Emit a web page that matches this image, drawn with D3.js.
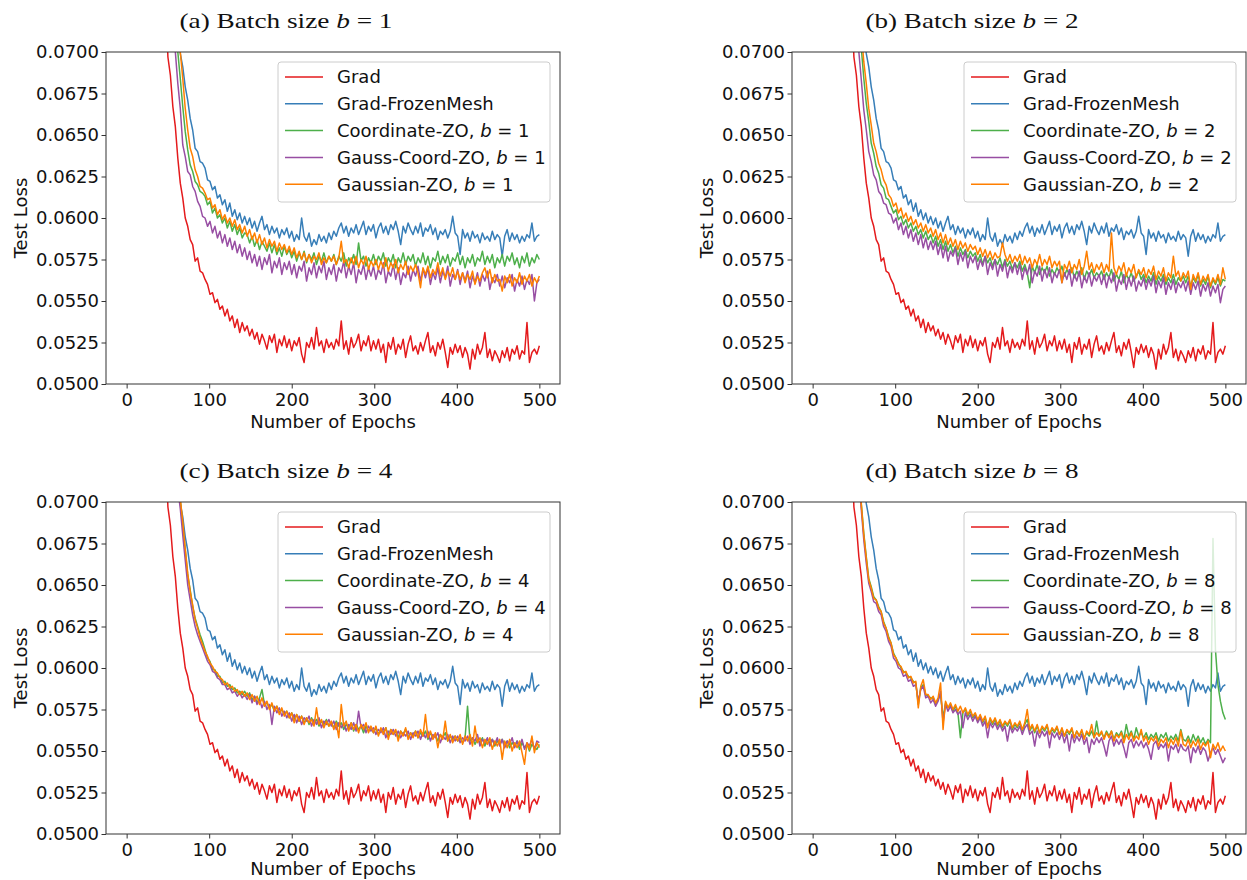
<!DOCTYPE html>
<html><head><meta charset="utf-8">
<script src="https://cdn.jsdelivr.net/npm/d3@7"></script>
<style>body{margin:0;background:#fff}svg{display:block}</style>
</head><body>
<svg id="chart" width="1247" height="880"></svg>
<script>
// Sampling grid (epochs): every 3 epochs from 44 to 500
const epochs = d3.range(44, 501, 3);

// Baselines shared by all four panels
const grad = [
0.0780,0.0735,0.0697,0.0686,0.0667,0.0655,0.0636,0.0621,0.0612,0.0600,0.0595,0.0587,0.0584,0.0574,0.0576,0.0568,0.0567,
0.0563,0.0560,0.0554,0.0555,0.0549,0.0551,0.0545,0.0547,0.0541,0.0545,0.0538,0.0541,0.0534,0.0539,0.0531,0.0537,0.0532,
0.0535,0.0529,0.0533,0.0527,0.0531,0.0524,0.0530,0.0526,0.0521,0.0529,0.0525,0.0530,0.0519,0.0527,0.0523,0.0529,0.0522,
0.0527,0.0520,0.0526,0.0523,0.0528,0.0518,0.0513,0.0525,0.0522,0.0528,0.0521,0.0534,0.0523,0.0526,0.0519,0.0527,0.0522,
0.0525,0.0521,0.0527,0.0523,0.0538,0.0521,0.0526,0.0518,0.0528,0.0522,0.0525,0.0530,0.0520,0.0526,0.0523,0.0529,0.0520,
0.0526,0.0521,0.0527,0.0519,0.0524,0.0513,0.0525,0.0521,0.0528,0.0518,0.0524,0.0521,0.0527,0.0516,0.0524,0.0529,0.0520,
0.0523,0.0518,0.0525,0.0520,0.0526,0.0531,0.0519,0.0523,0.0517,0.0525,0.0521,0.0527,0.0519,0.0510,0.0522,0.0518,0.0524,
0.0519,0.0523,0.0516,0.0522,0.0518,0.0509,0.0521,0.0515,0.0524,0.0518,0.0522,0.0531,0.0516,0.0521,0.0514,0.0520,0.0517,
0.0513,0.0520,0.0516,0.0522,0.0514,0.0521,0.0518,0.0523,0.0515,0.0520,0.0518,0.0537,0.0513,0.0519,0.0521,0.0518,0.0523];
const frozenMesh = [
0.0810,0.0795,0.0775,0.0760,0.0745,0.0730,0.0712,0.0699,0.0691,0.0679,0.0671,0.0660,0.0653,0.0642,0.0640,0.0634,0.0633,
0.0630,0.0623,0.0622,0.0617,0.0619,0.0612,0.0614,0.0608,0.0611,0.0604,0.0609,0.0601,0.0605,0.0599,0.0603,0.0597,0.0601,
0.0596,0.0600,0.0594,0.0598,0.0592,0.0597,0.0601,0.0593,0.0596,0.0590,0.0595,0.0591,0.0594,0.0588,0.0593,0.0590,0.0594,
0.0588,0.0592,0.0586,0.0590,0.0587,0.0600,0.0589,0.0586,0.0591,0.0583,0.0587,0.0584,0.0590,0.0586,0.0589,0.0585,0.0591,
0.0587,0.0592,0.0589,0.0594,0.0597,0.0591,0.0595,0.0589,0.0594,0.0591,0.0596,0.0590,0.0594,0.0598,0.0590,0.0595,0.0592,
0.0596,0.0588,0.0594,0.0597,0.0591,0.0595,0.0590,0.0596,0.0593,0.0598,0.0592,0.0584,0.0595,0.0591,0.0597,0.0593,0.0590,
0.0595,0.0591,0.0597,0.0589,0.0594,0.0592,0.0596,0.0590,0.0594,0.0587,0.0592,0.0590,0.0593,0.0588,0.0592,0.0601,0.0591,
0.0589,0.0578,0.0593,0.0588,0.0591,0.0586,0.0592,0.0588,0.0590,0.0585,0.0591,0.0587,0.0589,0.0586,0.0592,0.0587,0.0590,
0.0588,0.0577,0.0589,0.0593,0.0586,0.0591,0.0587,0.0590,0.0585,0.0589,0.0586,0.0590,0.0588,0.0597,0.0586,0.0589,0.0590];

// (a) batch size 1
const coordA = [
0.0810,0.0790,0.0772,0.0753,0.0735,0.0718,0.0700,0.0684,0.0667,0.0652,0.0641,0.0632,0.0628,0.0622,0.0620,0.0616,0.0615,
0.0613,0.0608,0.0610,0.0603,0.0606,0.0600,0.0602,0.0597,0.0600,0.0594,0.0598,0.0592,0.0596,0.0590,0.0594,0.0588,0.0591,
0.0590,0.0585,0.0589,0.0583,0.0587,0.0581,0.0586,0.0583,0.0580,0.0585,0.0579,0.0584,0.0578,0.0582,0.0577,0.0583,0.0578,
0.0581,0.0576,0.0580,0.0574,0.0579,0.0575,0.0580,0.0573,0.0578,0.0575,0.0579,0.0572,0.0577,0.0574,0.0579,0.0573,0.0577,
0.0574,0.0578,0.0572,0.0577,0.0574,0.0579,0.0571,0.0576,0.0573,0.0578,0.0572,0.0585,0.0574,0.0577,0.0571,0.0576,0.0573,
0.0578,0.0572,0.0577,0.0574,0.0579,0.0571,0.0576,0.0573,0.0578,0.0570,0.0576,0.0573,0.0579,0.0572,0.0577,0.0574,0.0578,
0.0571,0.0576,0.0573,0.0579,0.0572,0.0577,0.0570,0.0576,0.0574,0.0580,0.0572,0.0577,0.0573,0.0578,0.0571,0.0576,0.0574,
0.0579,0.0572,0.0577,0.0570,0.0576,0.0573,0.0578,0.0571,0.0576,0.0574,0.0580,0.0572,0.0577,0.0573,0.0578,0.0570,0.0576,
0.0573,0.0578,0.0571,0.0577,0.0574,0.0579,0.0572,0.0576,0.0570,0.0577,0.0573,0.0579,0.0571,0.0576,0.0573,0.0578,0.0575];
const gaussCoordA = [
0.0800,0.0780,0.0760,0.0740,0.0720,0.0700,0.0681,0.0666,0.0644,0.0637,0.0628,0.0626,0.0619,0.0616,0.0610,0.0607,0.0601,
0.0600,0.0595,0.0598,0.0591,0.0595,0.0588,0.0592,0.0585,0.0590,0.0583,0.0588,0.0581,0.0586,0.0579,0.0584,0.0577,0.0582,
0.0575,0.0580,0.0573,0.0578,0.0571,0.0577,0.0569,0.0576,0.0572,0.0578,0.0567,0.0574,0.0570,0.0576,0.0566,0.0573,0.0569,
0.0574,0.0566,0.0572,0.0564,0.0571,0.0568,0.0574,0.0562,0.0570,0.0566,0.0573,0.0564,0.0571,0.0567,0.0574,0.0563,0.0570,
0.0566,0.0572,0.0562,0.0570,0.0567,0.0574,0.0564,0.0571,0.0566,0.0573,0.0561,0.0569,0.0566,0.0572,0.0563,0.0570,0.0565,
0.0571,0.0563,0.0569,0.0566,0.0573,0.0561,0.0568,0.0565,0.0572,0.0563,0.0570,0.0560,0.0567,0.0564,0.0571,0.0562,0.0569,
0.0565,0.0571,0.0562,0.0569,0.0564,0.0570,0.0560,0.0567,0.0563,0.0570,0.0561,0.0568,0.0564,0.0571,0.0559,0.0566,0.0563,
0.0569,0.0560,0.0567,0.0562,0.0568,0.0558,0.0565,0.0561,0.0567,0.0559,0.0566,0.0562,0.0568,0.0557,0.0564,0.0561,0.0566,
0.0559,0.0565,0.0558,0.0564,0.0561,0.0566,0.0556,0.0563,0.0559,0.0565,0.0557,0.0563,0.0560,0.0566,0.0550,0.0561,0.0563];
const gaussianA = [
0.0820,0.0800,0.0780,0.0760,0.0745,0.0730,0.0715,0.0700,0.0684,0.0666,0.0653,0.0642,0.0637,0.0629,0.0625,0.0619,0.0618,
0.0615,0.0611,0.0612,0.0606,0.0608,0.0602,0.0605,0.0599,0.0602,0.0597,0.0600,0.0595,0.0599,0.0593,0.0596,0.0591,0.0595,
0.0589,0.0593,0.0587,0.0591,0.0585,0.0590,0.0584,0.0588,0.0582,0.0587,0.0583,0.0586,0.0580,0.0585,0.0581,0.0584,0.0579,
0.0583,0.0578,0.0582,0.0576,0.0580,0.0575,0.0579,0.0574,0.0578,0.0573,0.0577,0.0575,0.0579,0.0572,0.0576,0.0573,0.0577,
0.0574,0.0577,0.0572,0.0576,0.0586,0.0573,0.0575,0.0570,0.0576,0.0572,0.0577,0.0570,0.0575,0.0572,0.0577,0.0569,0.0574,
0.0571,0.0575,0.0569,0.0574,0.0570,0.0576,0.0568,0.0573,0.0570,0.0575,0.0567,0.0572,0.0569,0.0574,0.0566,0.0571,0.0568,
0.0572,0.0567,0.0558,0.0570,0.0566,0.0571,0.0564,0.0569,0.0566,0.0573,0.0565,0.0570,0.0563,0.0568,0.0565,0.0570,0.0563,
0.0568,0.0563,0.0567,0.0561,0.0566,0.0563,0.0568,0.0560,0.0565,0.0562,0.0567,0.0570,0.0564,0.0569,0.0561,0.0566,0.0562,
0.0563,0.0556,0.0565,0.0561,0.0566,0.0559,0.0564,0.0561,0.0567,0.0560,0.0565,0.0562,0.0566,0.0559,0.0564,0.0561,0.0565];

// (b) batch size 2
const coordB = [
0.0800,0.0780,0.0760,0.0740,0.0720,0.0702,0.0684,0.0669,0.0658,0.0645,0.0639,0.0631,0.0627,0.0620,0.0618,0.0612,0.0611,
0.0607,0.0603,0.0605,0.0599,0.0601,0.0596,0.0599,0.0594,0.0597,0.0592,0.0595,0.0590,0.0593,0.0588,0.0592,0.0587,0.0590,
0.0585,0.0589,0.0583,0.0587,0.0581,0.0586,0.0580,0.0584,0.0579,0.0583,0.0577,0.0582,0.0578,0.0581,0.0576,0.0580,0.0577,
0.0579,0.0574,0.0578,0.0572,0.0577,0.0573,0.0576,0.0571,0.0575,0.0572,0.0576,0.0570,0.0575,0.0571,0.0574,0.0569,0.0573,
0.0570,0.0574,0.0568,0.0572,0.0567,0.0558,0.0571,0.0567,0.0572,0.0566,0.0570,0.0567,0.0571,0.0565,0.0569,0.0566,0.0570,
0.0567,0.0571,0.0565,0.0569,0.0566,0.0570,0.0564,0.0568,0.0565,0.0570,0.0563,0.0568,0.0565,0.0569,0.0564,0.0567,0.0565,
0.0568,0.0563,0.0567,0.0564,0.0569,0.0562,0.0566,0.0563,0.0568,0.0561,0.0566,0.0563,0.0567,0.0562,0.0565,0.0568,0.0563,
0.0566,0.0561,0.0565,0.0562,0.0567,0.0560,0.0565,0.0562,0.0566,0.0560,0.0564,0.0561,0.0566,0.0560,0.0564,0.0562,0.0565,
0.0561,0.0565,0.0559,0.0564,0.0561,0.0566,0.0559,0.0563,0.0560,0.0565,0.0558,0.0563,0.0560,0.0564,0.0559,0.0563,0.0562];
const gaussCoordB = [
0.0790,0.0770,0.0750,0.0720,0.0700,0.0683,0.0665,0.0653,0.0640,0.0634,0.0626,0.0623,0.0616,0.0614,0.0609,0.0608,0.0603,
0.0602,0.0597,0.0600,0.0593,0.0597,0.0590,0.0595,0.0588,0.0593,0.0586,0.0591,0.0584,0.0590,0.0582,0.0588,0.0581,0.0586,
0.0581,0.0586,0.0578,0.0584,0.0576,0.0583,0.0574,0.0580,0.0577,0.0582,0.0572,0.0579,0.0574,0.0580,0.0570,0.0577,0.0573,
0.0577,0.0569,0.0575,0.0571,0.0577,0.0566,0.0573,0.0569,0.0575,0.0565,0.0572,0.0568,0.0574,0.0564,0.0571,0.0567,0.0573,
0.0566,0.0572,0.0563,0.0570,0.0566,0.0572,0.0561,0.0568,0.0565,0.0571,0.0562,0.0569,0.0564,0.0570,0.0561,0.0567,0.0564,
0.0569,0.0561,0.0567,0.0563,0.0569,0.0559,0.0566,0.0562,0.0568,0.0558,0.0565,0.0561,0.0567,0.0559,0.0565,0.0562,0.0566,
0.0560,0.0566,0.0558,0.0565,0.0561,0.0567,0.0556,0.0563,0.0560,0.0566,0.0557,0.0564,0.0559,0.0565,0.0556,0.0562,0.0559,
0.0564,0.0557,0.0563,0.0559,0.0565,0.0555,0.0562,0.0558,0.0564,0.0554,0.0561,0.0557,0.0563,0.0555,0.0561,0.0558,0.0562,
0.0556,0.0562,0.0554,0.0561,0.0557,0.0562,0.0553,0.0560,0.0556,0.0561,0.0553,0.0559,0.0555,0.0560,0.0549,0.0557,0.0559];
const gaussianB = [
0.0810,0.0790,0.0770,0.0750,0.0730,0.0712,0.0694,0.0681,0.0666,0.0656,0.0645,0.0640,0.0633,0.0629,0.0623,0.0620,0.0614,
0.0612,0.0607,0.0609,0.0603,0.0606,0.0600,0.0603,0.0598,0.0601,0.0596,0.0599,0.0594,0.0597,0.0592,0.0596,0.0591,0.0594,
0.0589,0.0593,0.0587,0.0591,0.0585,0.0590,0.0584,0.0588,0.0583,0.0587,0.0581,0.0586,0.0582,0.0585,0.0580,0.0584,0.0581,
0.0583,0.0578,0.0582,0.0577,0.0581,0.0576,0.0580,0.0575,0.0579,0.0576,0.0577,0.0585,0.0578,0.0574,0.0578,0.0573,0.0577,
0.0574,0.0578,0.0572,0.0577,0.0573,0.0576,0.0570,0.0575,0.0572,0.0578,0.0571,0.0575,0.0572,0.0577,0.0570,0.0574,0.0571,
0.0574,0.0561,0.0572,0.0569,0.0574,0.0567,0.0572,0.0569,0.0575,0.0566,0.0571,0.0580,0.0569,0.0573,0.0567,0.0572,0.0569,
0.0573,0.0567,0.0572,0.0568,0.0591,0.0570,0.0566,0.0571,0.0568,0.0573,0.0565,0.0570,0.0567,0.0572,0.0564,0.0569,0.0566,
0.0570,0.0564,0.0569,0.0566,0.0571,0.0563,0.0568,0.0565,0.0570,0.0562,0.0567,0.0564,0.0577,0.0565,0.0568,0.0562,0.0567,
0.0564,0.0568,0.0557,0.0566,0.0562,0.0567,0.0560,0.0565,0.0562,0.0566,0.0559,0.0564,0.0561,0.0566,0.0560,0.0570,0.0563];

// (c) batch size 4
const coordC = [
0.0820,0.0800,0.0780,0.0760,0.0740,0.0725,0.0712,0.0701,0.0686,0.0671,0.0656,0.0647,0.0637,0.0630,0.0625,0.0620,0.0616,
0.0611,0.0606,0.0604,0.0599,0.0599,0.0595,0.0595,0.0591,0.0592,0.0589,0.0590,0.0587,0.0588,0.0585,0.0586,0.0584,0.0586,
0.0583,0.0585,0.0581,0.0583,0.0579,0.0582,0.0587,0.0578,0.0579,0.0576,0.0578,0.0574,0.0577,0.0573,0.0575,0.0572,0.0574,
0.0570,0.0573,0.0569,0.0572,0.0568,0.0571,0.0567,0.0570,0.0566,0.0570,0.0567,0.0569,0.0565,0.0568,0.0566,0.0569,0.0565,
0.0567,0.0564,0.0568,0.0565,0.0567,0.0563,0.0566,0.0564,0.0567,0.0562,0.0566,0.0563,0.0565,0.0561,0.0565,0.0562,0.0564,
0.0561,0.0564,0.0560,0.0563,0.0561,0.0564,0.0559,0.0563,0.0560,0.0562,0.0558,0.0562,0.0560,0.0563,0.0558,0.0561,0.0559,
0.0562,0.0558,0.0561,0.0559,0.0562,0.0557,0.0561,0.0558,0.0560,0.0556,0.0560,0.0558,0.0561,0.0556,0.0559,0.0557,0.0559,
0.0556,0.0558,0.0555,0.0558,0.0577,0.0556,0.0558,0.0554,0.0557,0.0555,0.0558,0.0553,0.0557,0.0555,0.0557,0.0553,0.0556,
0.0554,0.0557,0.0553,0.0556,0.0552,0.0555,0.0553,0.0556,0.0551,0.0555,0.0552,0.0554,0.0550,0.0554,0.0552,0.0551,0.0554];
const gaussCoordC = [
0.0815,0.0795,0.0775,0.0755,0.0736,0.0722,0.0708,0.0696,0.0680,0.0665,0.0650,0.0641,0.0632,0.0625,0.0620,0.0616,0.0612,
0.0608,0.0604,0.0602,0.0598,0.0597,0.0594,0.0593,0.0590,0.0590,0.0587,0.0588,0.0585,0.0586,0.0583,0.0585,0.0582,0.0584,
0.0581,0.0584,0.0579,0.0583,0.0578,0.0581,0.0576,0.0580,0.0575,0.0578,0.0566,0.0577,0.0573,0.0576,0.0571,0.0574,0.0570,
0.0573,0.0568,0.0572,0.0567,0.0571,0.0566,0.0570,0.0568,0.0571,0.0565,0.0569,0.0566,0.0570,0.0564,0.0568,0.0566,0.0569,
0.0565,0.0568,0.0563,0.0567,0.0564,0.0567,0.0562,0.0566,0.0563,0.0567,0.0562,0.0574,0.0564,0.0566,0.0561,0.0565,0.0562,
0.0564,0.0560,0.0563,0.0561,0.0564,0.0558,0.0562,0.0560,0.0563,0.0559,0.0562,0.0558,0.0561,0.0559,0.0562,0.0557,0.0561,
0.0559,0.0562,0.0557,0.0561,0.0558,0.0562,0.0556,0.0560,0.0558,0.0561,0.0555,0.0559,0.0557,0.0560,0.0555,0.0559,0.0556,
0.0559,0.0555,0.0558,0.0556,0.0559,0.0554,0.0558,0.0556,0.0560,0.0553,0.0557,0.0555,0.0558,0.0553,0.0557,0.0554,0.0558,
0.0553,0.0557,0.0552,0.0556,0.0554,0.0558,0.0552,0.0556,0.0553,0.0557,0.0551,0.0555,0.0553,0.0557,0.0551,0.0556,0.0555];
const gaussianC = [
0.0825,0.0805,0.0785,0.0765,0.0745,0.0728,0.0714,0.0702,0.0688,0.0672,0.0657,0.0646,0.0638,0.0629,0.0624,0.0618,0.0614,
0.0610,0.0607,0.0603,0.0601,0.0598,0.0597,0.0594,0.0593,0.0590,0.0591,0.0588,0.0589,0.0586,0.0587,0.0584,0.0586,0.0583,
0.0585,0.0581,0.0584,0.0580,0.0583,0.0578,0.0582,0.0577,0.0580,0.0575,0.0579,0.0574,0.0577,0.0572,0.0576,0.0571,0.0574,
0.0570,0.0573,0.0567,0.0572,0.0568,0.0571,0.0566,0.0570,0.0567,0.0569,0.0565,0.0576,0.0566,0.0569,0.0564,0.0568,0.0565,
0.0568,0.0563,0.0567,0.0558,0.0578,0.0565,0.0568,0.0562,0.0567,0.0563,0.0566,0.0561,0.0566,0.0563,0.0567,0.0561,0.0565,
0.0561,0.0565,0.0559,0.0564,0.0560,0.0564,0.0557,0.0563,0.0560,0.0563,0.0556,0.0562,0.0559,0.0564,0.0557,0.0561,0.0558,
0.0562,0.0558,0.0563,0.0559,0.0572,0.0558,0.0562,0.0557,0.0561,0.0552,0.0560,0.0557,0.0568,0.0556,0.0560,0.0555,0.0559,
0.0556,0.0560,0.0554,0.0559,0.0556,0.0560,0.0553,0.0565,0.0555,0.0558,0.0552,0.0557,0.0554,0.0558,0.0551,0.0556,0.0553,
0.0557,0.0545,0.0556,0.0552,0.0557,0.0550,0.0555,0.0552,0.0556,0.0549,0.0542,0.0555,0.0551,0.0559,0.0549,0.0555,0.0552];

// (d) batch size 8
const coordD = [
0.0820,0.0791,0.0766,0.0741,0.0719,0.0699,0.0681,0.0667,0.0654,0.0649,0.0643,0.0641,0.0637,0.0634,0.0628,0.0624,0.0619,
0.0615,0.0609,0.0606,0.0603,0.0600,0.0598,0.0597,0.0595,0.0594,0.0592,0.0591,0.0578,0.0588,0.0590,0.0584,0.0583,0.0582,
0.0582,0.0578,0.0581,0.0584,0.0570,0.0579,0.0576,0.0578,0.0574,0.0577,0.0573,0.0558,0.0573,0.0575,0.0571,0.0574,0.0570,
0.0572,0.0568,0.0571,0.0567,0.0570,0.0565,0.0569,0.0566,0.0569,0.0565,0.0568,0.0564,0.0567,0.0565,0.0568,0.0563,0.0566,
0.0564,0.0567,0.0562,0.0566,0.0569,0.0562,0.0565,0.0561,0.0565,0.0561,0.0564,0.0562,0.0565,0.0560,0.0563,0.0561,0.0564,
0.0560,0.0563,0.0559,0.0562,0.0560,0.0563,0.0558,0.0562,0.0559,0.0562,0.0558,0.0561,0.0559,0.0562,0.0558,0.0568,0.0559,
0.0561,0.0558,0.0562,0.0559,0.0562,0.0557,0.0561,0.0559,0.0562,0.0557,0.0566,0.0559,0.0562,0.0557,0.0564,0.0559,0.0561,
0.0558,0.0561,0.0557,0.0560,0.0558,0.0561,0.0556,0.0560,0.0558,0.0561,0.0556,0.0559,0.0557,0.0560,0.0556,0.0563,0.0557,
0.0556,0.0559,0.0555,0.0560,0.0556,0.0559,0.0555,0.0558,0.0554,0.0557,0.0555,0.0678,0.0611,0.0590,0.0580,0.0573,0.0569];
const gaussCoordD = [
0.0815,0.0785,0.0760,0.0736,0.0714,0.0695,0.0677,0.0663,0.0651,0.0646,0.0640,0.0639,0.0634,0.0632,0.0625,0.0622,0.0616,
0.0613,0.0606,0.0604,0.0600,0.0599,0.0595,0.0596,0.0592,0.0593,0.0589,0.0590,0.0580,0.0587,0.0589,0.0582,0.0583,0.0579,
0.0581,0.0577,0.0580,0.0586,0.0567,0.0578,0.0574,0.0577,0.0573,0.0575,0.0572,0.0574,0.0564,0.0573,0.0569,0.0572,0.0568,
0.0571,0.0567,0.0570,0.0565,0.0568,0.0558,0.0567,0.0564,0.0567,0.0563,0.0566,0.0562,0.0565,0.0556,0.0565,0.0561,0.0564,
0.0562,0.0565,0.0560,0.0564,0.0566,0.0560,0.0562,0.0553,0.0562,0.0558,0.0562,0.0559,0.0562,0.0552,0.0561,0.0558,0.0561,
0.0557,0.0561,0.0555,0.0560,0.0550,0.0560,0.0555,0.0559,0.0556,0.0560,0.0554,0.0558,0.0549,0.0557,0.0554,0.0558,0.0555,
0.0558,0.0553,0.0547,0.0556,0.0559,0.0553,0.0557,0.0554,0.0557,0.0552,0.0546,0.0555,0.0557,0.0552,0.0556,0.0553,0.0556,
0.0552,0.0555,0.0551,0.0545,0.0554,0.0556,0.0551,0.0554,0.0552,0.0555,0.0544,0.0553,0.0551,0.0554,0.0549,0.0554,0.0551,
0.0550,0.0553,0.0543,0.0552,0.0549,0.0553,0.0548,0.0552,0.0550,0.0544,0.0549,0.0552,0.0548,0.0551,0.0547,0.0543,0.0546];
const gaussianD = [
0.0820,0.0790,0.0765,0.0740,0.0718,0.0698,0.0680,0.0666,0.0653,0.0648,0.0642,0.0641,0.0636,0.0634,0.0627,0.0624,0.0618,
0.0615,0.0608,0.0606,0.0602,0.0601,0.0597,0.0598,0.0594,0.0595,0.0591,0.0592,0.0576,0.0589,0.0593,0.0584,0.0584,0.0581,
0.0583,0.0579,0.0582,0.0591,0.0563,0.0580,0.0576,0.0579,0.0575,0.0578,0.0574,0.0577,0.0573,0.0576,0.0572,0.0575,0.0571,
0.0573,0.0569,0.0572,0.0568,0.0571,0.0564,0.0570,0.0567,0.0570,0.0566,0.0569,0.0565,0.0568,0.0566,0.0569,0.0564,0.0567,
0.0565,0.0568,0.0563,0.0567,0.0575,0.0563,0.0566,0.0562,0.0566,0.0561,0.0565,0.0563,0.0566,0.0560,0.0564,0.0562,0.0565,
0.0560,0.0564,0.0559,0.0563,0.0561,0.0564,0.0558,0.0562,0.0559,0.0563,0.0557,0.0562,0.0560,0.0566,0.0558,0.0561,0.0559,
0.0562,0.0557,0.0561,0.0558,0.0562,0.0556,0.0560,0.0558,0.0561,0.0555,0.0560,0.0557,0.0561,0.0556,0.0559,0.0557,0.0563,
0.0556,0.0559,0.0554,0.0558,0.0556,0.0559,0.0553,0.0557,0.0555,0.0558,0.0552,0.0557,0.0554,0.0558,0.0553,0.0562,0.0554,
0.0553,0.0557,0.0552,0.0556,0.0553,0.0557,0.0551,0.0555,0.0553,0.0556,0.0546,0.0554,0.0551,0.0555,0.0550,0.0553,0.0550];

const seriesNames = ["Grad", "Grad-FrozenMesh", "Coordinate-ZO", "Gauss-Coord-ZO", "Gaussian-ZO"];
const seriesColors = ["#e41a1c", "#377eb8", "#4daf4a", "#984ea3", "#ff7f00"];
const panelLetters = ["a", "b", "c", "d"];
const batchSizes = [1, 2, 4, 8];
const panelSeries = [
  [grad, frozenMesh, coordA, gaussCoordA, gaussianA],
  [grad, frozenMesh, coordB, gaussCoordB, gaussianB],
  [grad, frozenMesh, coordC, gaussCoordC, gaussianC],
  [grad, frozenMesh, coordD, gaussCoordD, gaussianD]
];
const xTickValues = [0, 100, 200, 300, 400, 500];
const yTickValues = [0.0500, 0.0525, 0.0550, 0.0575, 0.0600, 0.0625, 0.0650, 0.0675, 0.0700];

const svg = d3.select("#chart");
const W = 454, H = 332;
const lefts = [106, 792, 106, 792];
const tops = [52, 52, 502, 502];
const FONT = "'DejaVu Sans', sans-serif";

panelLetters.forEach((letter, p) => {
  const g = svg.append("g").attr("transform", `translate(${lefts[p]},${tops[p]})`);
  const x = d3.scaleLinear().domain([-25, 525]).range([0, W]);
  const y = d3.scaleLinear().domain([0.05, 0.07]).range([H, 0]);

  const clipId = "clip" + letter;
  g.append("clipPath").attr("id", clipId).append("rect").attr("width", W).attr("height", H);

  const line = d3.line().defined((d, i) => i < epochs.length)
    .x((d, i) => x(epochs[i])).y(d => y(d));
  const lines = g.append("g").attr("clip-path", `url(#${clipId})`);
  panelSeries[p].forEach((vals, s) => {
    lines.append("path").datum(vals).attr("d", line)
      .attr("fill", "none").attr("stroke", seriesColors[s])
      .attr("stroke-width", 1.5).attr("stroke-linejoin", "round");
  });

  const xa = g.append("g").attr("transform", `translate(0,${H})`)
    .call(d3.axisBottom(x).tickValues(xTickValues).tickSize(4.5).tickPadding(4.5).tickSizeOuter(0));
  const ya = g.append("g")
    .call(d3.axisLeft(y).tickValues(yTickValues).tickFormat(d3.format(".4f")).tickSize(4.5).tickPadding(2.5).tickSizeOuter(0));
  [xa, ya].forEach(a => {
    a.select(".domain").remove();
    a.selectAll("line").attr("stroke", "#333").attr("stroke-width", 1);
    a.selectAll("text").attr("font-family", FONT).attr("font-size", 18).attr("fill", "#111");
  });

  g.append("rect").attr("width", W).attr("height", H)
    .attr("fill", "none").attr("stroke", "#333").attr("stroke-width", 1);

  g.append("text").attr("x", W / 2).attr("y", p < 2 ? H + 44 : H + 41).attr("text-anchor", "middle")
    .attr("font-family", FONT).attr("font-size", 18).attr("fill", "#111").text("Number of Epochs");
  g.append("text").attr("transform", `translate(-79,${H / 2}) rotate(-90)`).attr("text-anchor", "middle")
    .attr("font-family", FONT).attr("font-size", 18).attr("fill", "#111").text("Test Loss");

  const t = g.append("text").attr("x", W / 2 - 47).attr("y", -24).attr("text-anchor", "middle")
    .attr("font-family", "'Liberation Serif', serif").attr("font-size", 21).attr("fill", "#111")
    .attr("textLength", 213).attr("lengthAdjust", "spacingAndGlyphs");
  t.append("tspan").text(`(${letter}) Batch size `);
  t.append("tspan").attr("font-style", "italic").text("b");
  t.append("tspan").text(` = ${batchSizes[p]}`);

  const lw = 272, lh = 140;
  const lg = g.append("g").attr("transform", `translate(${W - 10 - lw},10)`);
  lg.append("rect").attr("width", lw).attr("height", lh).attr("rx", 3)
    .attr("fill", "#fff").attr("fill-opacity", 0.8).attr("stroke", "#ccc").attr("stroke-width", 1);
  seriesNames.forEach((name, s) => {
    const cy = 15 + s * 26.8;
    lg.append("line").attr("x1", 7).attr("x2", 45).attr("y1", cy).attr("y2", cy)
      .attr("stroke", seriesColors[s]).attr("stroke-width", 1.5);
    const tx = lg.append("text").attr("x", 59).attr("y", cy).attr("dy", "0.36em")
      .attr("font-family", FONT).attr("font-size", 18).attr("fill", "#111");
    if (s < 2) {
      tx.text(name);
    } else {
      tx.append("tspan").text(name + ", ");
      tx.append("tspan").attr("font-style", "italic").text("b");
      tx.append("tspan").text(` = ${batchSizes[p]}`);
    }
  });
});
</script>
</body></html>
